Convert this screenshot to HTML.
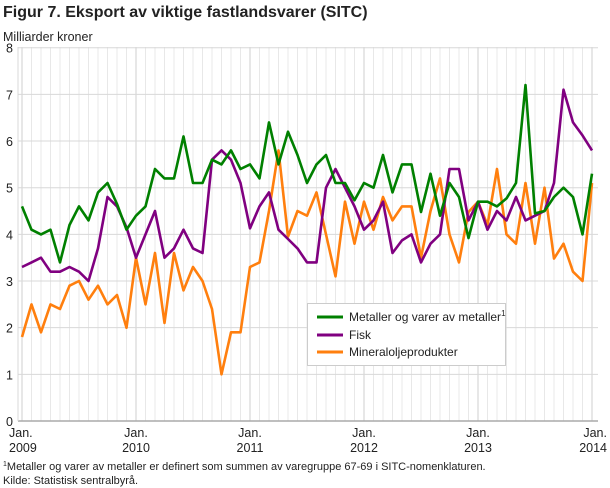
<!DOCTYPE html>
<html><head><meta charset="utf-8"><style>
body{margin:0;background:#fff;width:610px;height:488px;overflow:hidden;font-family:"Liberation Sans",sans-serif;}
svg{position:absolute;left:0;top:0}
</style></head><body>
<svg id="s" width="610" height="488" xmlns="http://www.w3.org/2000/svg" font-family="Liberation Sans, sans-serif">
<text x="3" y="17" font-size="16" font-weight="bold" fill="#222">Figur 7. Eksport av viktige fastlandsvarer (SITC)</text>
<text x="3" y="41" font-size="12.5" fill="#222">Milliarder kroner</text>
<g id="grid"></g>
<g id="lines"></g>
<rect x="307.5" y="303.5" width="198" height="62" fill="#fff" stroke="#ccc"/>
<line x1="317" y1="317" x2="343" y2="317" stroke="#008000" stroke-width="3"/>
<line x1="317" y1="335" x2="343" y2="335" stroke="#800080" stroke-width="3"/>
<line x1="317" y1="352" x2="343" y2="352" stroke="#ff7f0e" stroke-width="3"/>
<text x="349" y="321" font-size="12" fill="#222">Metaller og varer av metaller<tspan font-size="8" dy="-5">1</tspan></text>
<text x="349" y="339" font-size="12" fill="#222">Fisk</text>
<text x="349" y="356" font-size="12" fill="#222">Mineraloljeprodukter</text>
<text x="3" y="470" font-size="11" fill="#222"><tspan font-size="7" dy="-4">1</tspan><tspan dy="4">Metaller og varer av metaller er definert som summen av varegruppe 67-69 i SITC-nomenklaturen.</tspan></text>
<text x="3" y="484" font-size="11" fill="#222">Kilde: Statistisk sentralbyrå.</text>
</svg>
<script>
var X0=22,DX=9.5,Y0=421,DY=46.66;
var g=document.getElementById('grid'),h='';
for(var i=0;i<=60;i++){var x=X0+DX*i;var yr=i%12==0;h+='<line x1="'+x+'" y1="47" x2="'+x+'" y2="421" stroke="'+(yr?'#cfcfcf':'#e8e8e8')+'" stroke-width="1"/>';}
for(var v=0;v<=8;v++){var y=Y0-DY*v;h+='<line x1="18" y1="'+y+'" x2="598" y2="'+y+'" stroke="'+(v==0?'#aaa':'#d8d8d8')+'" stroke-width="'+(v==0?1.5:1)+'"/>';h+='<text x="13" y="'+(y+5)+'" font-size="12.5" text-anchor="end" fill="#222">'+v+'</text>';}
h+='<line x1="18" y1="47" x2="18" y2="421" stroke="#d8d8d8"/>';
var yrs=[2009,2010,2011,2012,2013,2014];
for(var k=0;k<6;k++){var x=X0+DX*12*k;var a=k==0?'start':(k==5?'end':'middle');var xx=k==0?9:(k==5?607:x);h+='<text x="'+xx+'" y="437" font-size="12.5" text-anchor="'+a+'" fill="#222">Jan.</text><text x="'+xx+'" y="452" font-size="12.5" text-anchor="'+a+'" fill="#222">'+yrs[k]+'</text>';}
g.innerHTML=h;
var G=[4.6,4.1,4.0,4.1,3.4,4.2,4.6,4.3,4.9,5.1,4.65,4.1,4.4,4.6,5.4,5.2,5.2,6.1,5.1,5.1,5.6,5.5,5.8,5.4,5.5,5.2,6.4,5.5,6.2,5.7,5.1,5.5,5.7,5.1,5.1,4.73,5.1,5.0,5.7,4.9,5.5,5.5,4.48,5.3,4.4,5.1,4.8,3.92,4.7,4.7,4.6,4.77,5.1,7.2,4.45,4.5,4.8,5.0,4.8,4.0,5.3];
var P=[3.3,3.4,3.5,3.2,3.2,3.3,3.2,3.0,3.7,4.8,4.6,4.15,3.5,4.0,4.5,3.5,3.7,4.1,3.7,3.6,5.6,5.8,5.6,5.1,4.13,4.6,4.9,4.1,3.9,3.7,3.4,3.4,5.0,5.4,5.0,4.6,4.1,4.3,4.7,3.6,3.87,4.0,3.4,3.8,4.0,5.4,5.4,4.3,4.7,4.1,4.5,4.3,4.8,4.3,4.4,4.5,5.1,7.1,6.4,6.12,5.8];
var O=[1.8,2.5,1.9,2.5,2.4,2.9,3.0,2.6,2.9,2.5,2.7,2.0,3.5,2.5,3.6,2.1,3.6,2.8,3.3,3.0,2.4,1.0,1.9,1.9,3.3,3.4,4.5,5.8,3.95,4.5,4.4,4.9,4.0,3.1,4.7,3.8,4.7,4.1,4.8,4.3,4.6,4.6,3.5,4.5,5.2,4.0,3.4,4.48,4.7,4.2,5.4,4.0,3.8,5.1,3.8,5.0,3.48,3.8,3.2,3.0,5.1];
function pl(d,c){var p=d.map(function(v,i){return (X0+DX*i).toFixed(1)+','+(Y0-DY*v).toFixed(1)}).join(' ');return '<polyline points="'+p+'" fill="none" stroke="'+c+'" stroke-width="2.6" stroke-linejoin="round"/>';}
document.getElementById('lines').innerHTML=pl(O,'#ff7f0e')+pl(P,'#800080')+pl(G,'#008000');
</script>
</body></html>
